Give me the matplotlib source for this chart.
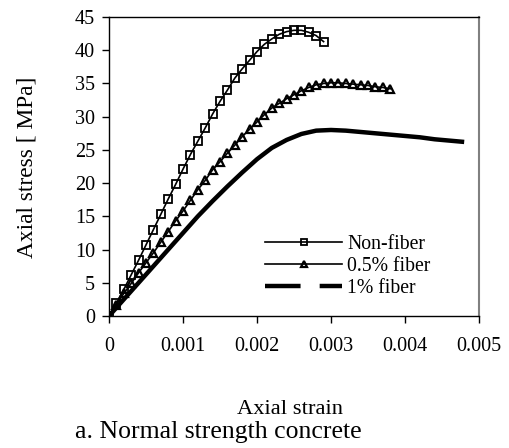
import matplotlib
matplotlib.use("Agg")
import matplotlib.pyplot as plt
import numpy as np

plt.rcParams['font.family'] = ['Liberation Serif', 'DejaVu Serif']

# Non-fiber (squares)
strain_nf = np.arange(30) * 0.0001
stress_nf = [0, 1.9, 4.0, 6.2, 8.4, 10.7, 13.0, 15.3, 17.6, 19.8,
             22.1, 24.3, 26.3, 28.3, 30.4, 32.3, 34.0, 35.8, 37.2, 38.5,
             39.8, 40.9, 41.7, 42.4, 42.8, 43.0, 43.0, 42.7, 42.2, 41.3]

# 0.5% fiber (triangles)
strain_05 = np.arange(39) * 0.0001
stress_05 = [0, 1.7, 3.4, 4.9, 6.5, 8.0, 9.5, 11.1, 12.7, 14.3,
             15.8, 17.4, 19.0, 20.4, 22.0, 23.2, 24.5, 25.7, 27.0, 28.1,
             29.2, 30.3, 31.3, 32.0, 32.7, 33.3, 33.9, 34.4, 34.8, 35.0,
             35.1, 35.1, 35.0, 34.9, 34.8, 34.7, 34.5, 34.4, 34.2]

# 1% fiber (thick line)
strain_1 = np.arange(25) * 0.0002
stress_1 = [0, 2.5, 5.0, 7.5, 10.0, 12.5, 15.0, 17.3, 19.5, 21.6,
            23.6, 25.3, 26.5, 27.4, 27.9, 28.0, 27.9, 27.7, 27.5, 27.3,
            27.1, 26.9, 26.6, 26.4, 26.2]

fig = plt.figure(figsize=(5.1, 4.48), dpi=100)
ax = fig.add_axes([0.2137, 0.2946, 0.7255, 0.6674])

ax.plot(strain_nf, stress_nf, color='black', linewidth=1.2,
        marker='s', markersize=5.2, markerfacecolor='none',
        markeredgewidth=1.3, label='Non-fiber')
ax.plot(strain_05, stress_05, color='black', linewidth=1.2,
        marker='^', markersize=5.8, markerfacecolor='none',
        markeredgewidth=1.6, label='0.5% fiber')
ax.plot(strain_1, stress_1, color='black', linewidth=3.2,
        solid_capstyle='butt', label='1% fiber')

ax.set_xlim(0, 0.005)
ax.set_ylim(0, 45)
ax.set_xticks(np.arange(0, 0.0051, 0.001))
ax.set_xticklabels(['0', '0.001', '0.002', '0.003', '0.004', '0.005'])
ax.set_yticks(np.arange(0, 46, 5))
ax.tick_params(axis='x', direction='out', length=5, width=1, pad=10, labelsize=14.5)
ax.tick_params(axis='y', direction='out', length=5, width=1, pad=5, labelsize=14.5)

ax.spines['right'].set_color('#808080')
ax.spines['right'].set_linewidth(1.5)
for s in ['left', 'bottom', 'top']:
    ax.spines[s].set_linewidth(1)

leg = ax.legend(loc='upper left', bbox_to_anchor=(0.423, 0.27),
                frameon=False, fontsize=14.2, handlelength=3.9,
                handletextpad=0.25, borderpad=0, borderaxespad=0,
                labelspacing=0.15, markerscale=0.8)
leg.get_lines()[2].set_linestyle((0, (8, 4.3)))

fig.text(0.053, 0.627, 'Axial stress [ MPa]', rotation=90,
         ha='center', va='center', fontsize=16.8)
fig.text(0.569, 0.085, 'Axial strain', ha='center', va='center', fontsize=16.2)
fig.text(0.428, 0.035, 'a. Normal strength concrete', ha='center',
         va='center', fontsize=18.5)

fig.savefig('out.png', dpi=100)
